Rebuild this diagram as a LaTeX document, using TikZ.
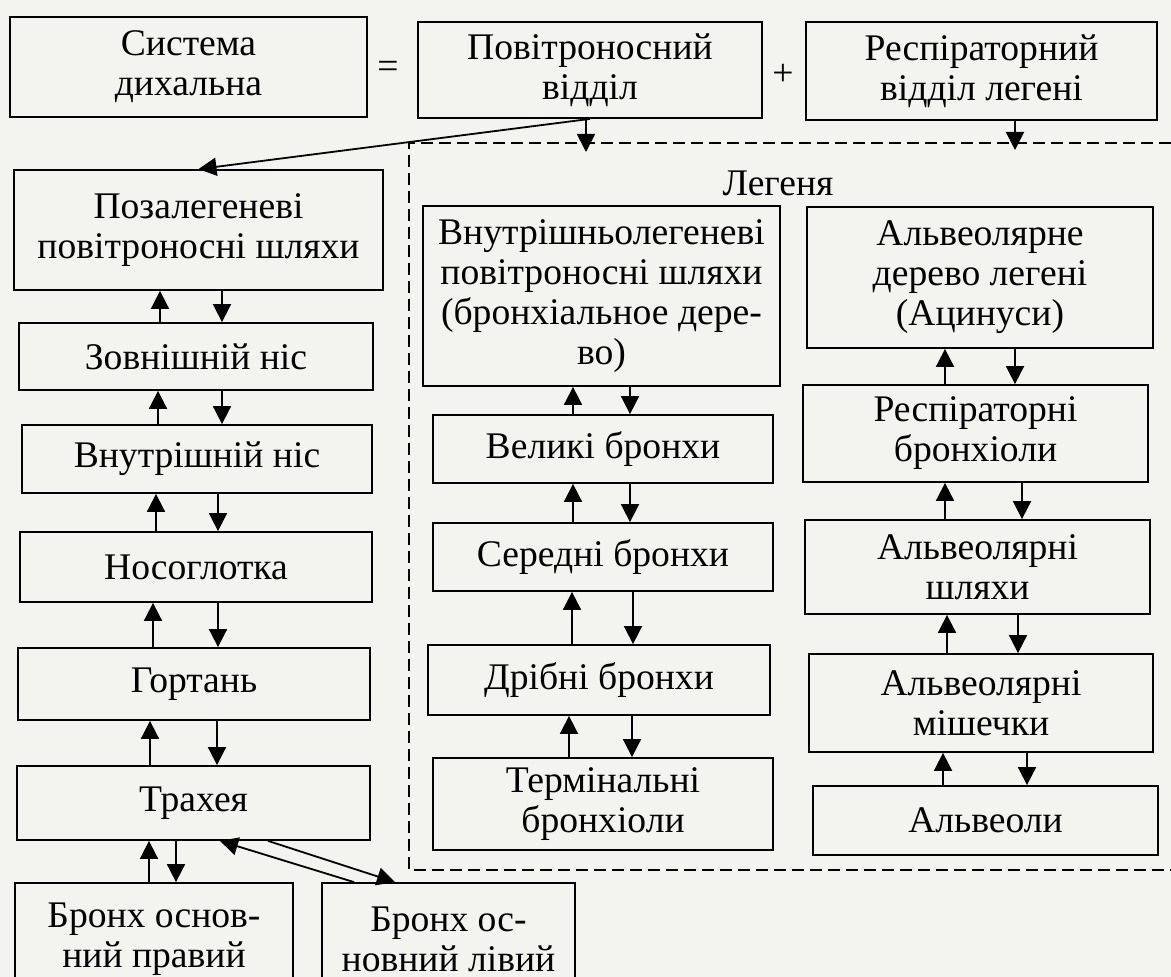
\documentclass[tikz,border=0pt]{standalone}
\usepackage{fontspec}
\setmainfont{Liberation Serif}
\usetikzlibrary{arrows.meta}

\definecolor{paper}{RGB}{243,243,239}
\tikzstyle{block}=[draw,line width=0.9pt,align=center,inner sep=0pt,font=\fontsize{18.8}{20}\selectfont]
\tikzstyle{sign}=[inner sep=0pt,font=\fontsize{18.8}{20}\selectfont]
\tikzstyle{edge}=[draw,line width=0.9pt,-{Triangle[length=9pt,width=9pt]}]
\tikzstyle{lung}=[draw,line width=0.8pt,dash pattern=on 6pt off 3pt]

\begin{document}
\begin{tikzpicture}[x=0.5pt,y=-0.5pt]
\fill[paper] (0,0) rectangle (1171,977);
\useasboundingbox (0,0) rectangle (1171,977);
% boxes: centre / width / height / name / text
\foreach \pos/\w/\h/\name/\txt in {
  {(188.5,67)/357/100/sys/Система\\дихальна},
  {(590,70)/344/96/povit/Повітроносний\\відділ},
  {(981.5,71)/351/98/resp/Респіраторний\\відділ легені},
  {(198.5,230)/369/120/pozal/Позалегеневі\\повітроносні шляхи},
  {(196,356.5)/354/67/zovn/Зовнішній ніс},
  {(197,459)/350/68/vnutr/Внутрішній ніс},
  {(196,567)/352/70/nosog/Носоглотка},
  {(194,684)/352/72/gort/Гортань},
  {(193.5,803)/353/74/trach/Трахея},
  {(154,939)/278/112/bronR/Бронх основ-\\ний правий},
  {(448.5,939)/253/112/bronL/Бронх ос-\\новний лівий},
  {(601.5,296)/357/180/intra/Внутрішньолегеневі\\повітроносні шляхи\\(бронхіальное дере-\\во)},
  {(603,449)/340/68/velyk/Великі бронхи},
  {(603,557)/340/68/sered/Середні бронхи},
  {(599,680)/342/70/dribn/Дрібні бронхи},
  {(603,804)/340/92/termin/Термінальні\\бронхіоли},
  {(980,277.5)/346/141/acin/Альвеолярне\\дерево легені\\(Ацинуси)},
  {(975.5,433.5)/345/97/respbr/Респіраторні\\бронхіоли},
  {(977.5,567)/345/94/alvsh/Альвеолярні\\шляхи},
  {(981,703)/344/98/alvm/Альвеолярні\\мішечки},
  {(985.5,820.5)/345/69/alv/Альвеоли}}{
  \node[block,minimum width=\w*0.5pt,minimum height=\h*0.5pt] (\name) at \pos {\txt};
}
\node[sign] (eq) at (388,70) {=};
\node[sign] (plus) at (783,75) {+};
\node[sign] (lungname) at (778,183) {Легеня};

% lung frame
\path[lung] (1171,143) -| (409,870) -- (1171,870);

% entry arrows
\coordinate (airtip) at (586,152);
\coordinate (resptip) at (1015,150);
\path[edge] (povit.south) -- (pozal.north);
\path[edge] (povit.south -| airtip) -- (airtip);
\path[edge] (resp.south -| resptip) -- (resptip);

% up / down pairs
\foreach \upper/\lower/\ux/\dx in {pozal/zovn/160/222, zovn/vnutr/158/222,
                                   vnutr/nosog/156/218, nosog/gort/153/218,
                                   gort/trach/150/217, trach/bronR/149/176,
                                   intra/velyk/573/630, velyk/sered/573/630,
                                   sered/dribn/572/633, dribn/termin/569/632,
                                   acin/respbr/945/1015, respbr/alvsh/945/1022,
                                   alvsh/alvm/947/1018, alvm/alv/943/1027}{
  \path[edge] (\lower.north -| \ux,0) -- (\upper.south -| \ux,0);
  \path[edge] (\upper.south -| \dx,0) -- (\lower.north -| \dx,0);
}
\path[edge] (bronL.north -| 354,0) -- (trach.south -| 220,0);
\path[edge] (trach.south -| 268,0) -- (bronL.north -| 395,0);
\end{tikzpicture}
\end{document}
